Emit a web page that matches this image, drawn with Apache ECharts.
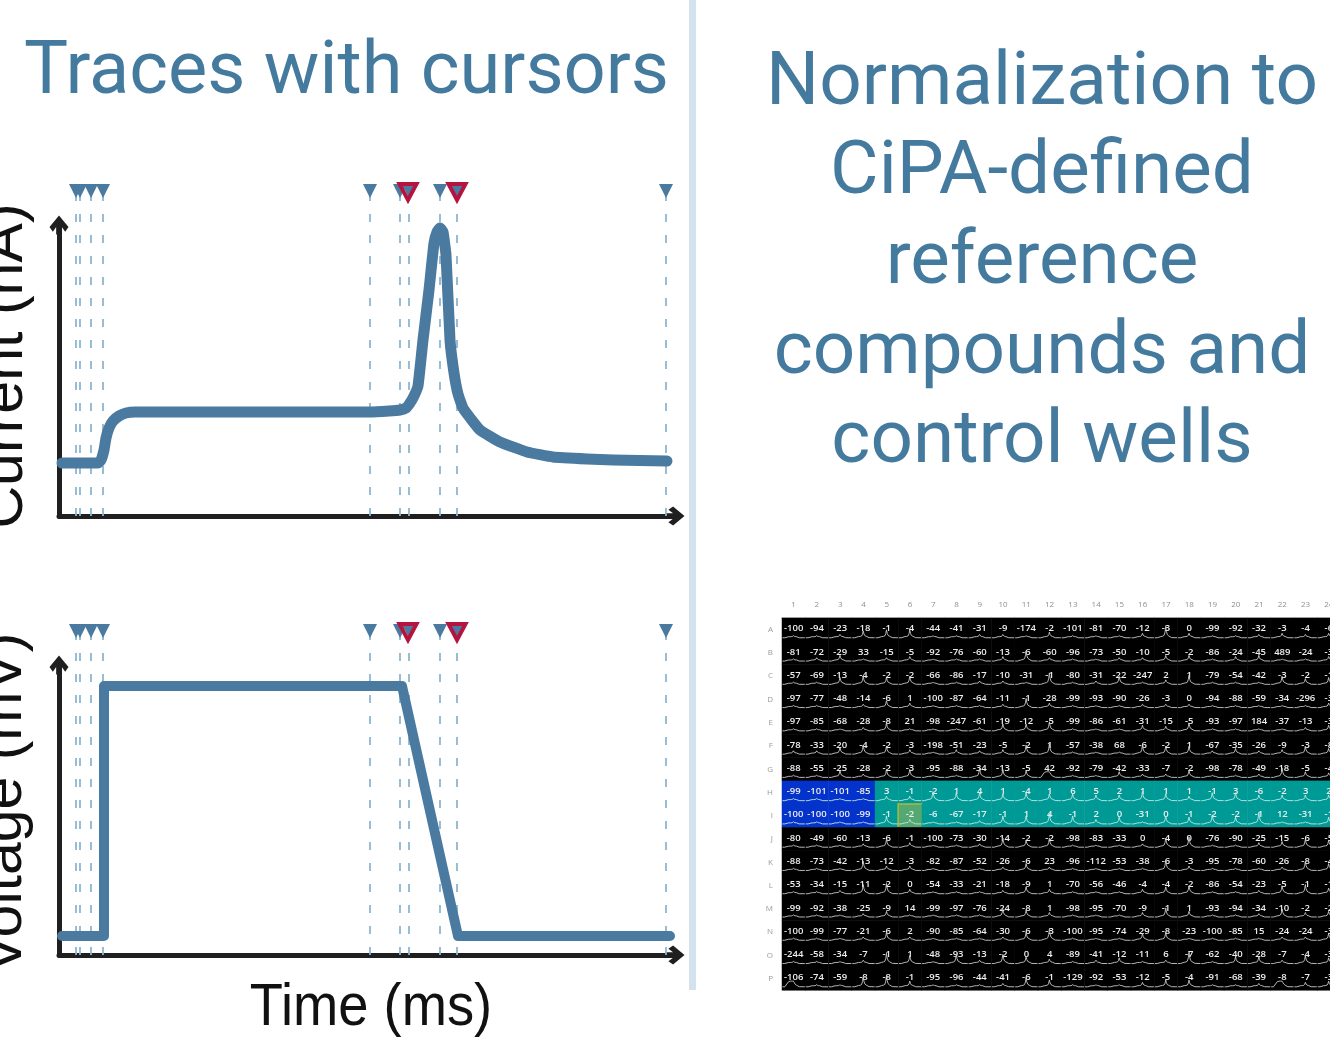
<!DOCTYPE html>
<html><head><meta charset="utf-8">
<style>html,body{margin:0;padding:0;background:#fff;overflow:hidden}#c{width:1330px;height:1042px;filter:blur(0.55px)}</style>
<script src="https://cdn.jsdelivr.net/npm/echarts@6/dist/echarts.min.js"></script>
</head><body><div id="c"></div>
<script>
const currentTime=[3,39,42,45,47,50,54,60,67,76,120,200,280,311,330,341,347,351,355,359,364,370,375,378,381,384,387,391,395,399,404,412,421,441,468,494,528,554,608];
const currentVal=[53,53,56,66,78,88,95,100,103,104,104,104,104,104,105,106,108,113,120,130,176,226,273,284,288,284,261,176,143,122,108,97,86,74,64,59,57,56,55];
const voltageTime=[3,45,45,343,399,611];
const voltageVal=[19,19,269,269,19,19];
const cursorTimes=[17,21,32,44,311,341,350,381,398,607];
const redCursors=[349,398];
const titleLeft='Traces with cursors';
const titleRight='Normalization to\nCiPA-defined\nreference\ncompounds and\ncontrol wells';
const plateCols=Array.from({length:24},(_,i)=>String(i+1));
const plateRows=['A','B','C','D','E','F','G','H','I','J','K','L','M','N','O','P'];
const rowA=[-100,-94,-23,-18,-1,-4,-44,-41,-31,-9,-174,-2,-101,-81,-70,-12,-3,0,-99,-92,-32,-3,-4,-6];
const rowB=[-81,-72,-29,33,-15,-5,-92,-76,-60,-13,-6,-60,-96,-73,-50,-10,-5,-2,-86,-24,-45,489,-24,-3];
const rowC=[-57,-69,-13,-4,-2,-2,-66,-86,-17,-10,-31,-1,-80,-31,-22,-247,2,1,-79,-54,-42,-3,-2,-1];
const rowD=[-97,-77,-48,-14,-6,1,-100,-87,-64,-11,-1,-28,-99,-93,-90,-26,-3,0,-94,-88,-59,-34,-296,-3];
const rowE=[-97,-85,-68,-28,-8,21,-98,-247,-61,-19,-12,-5,-99,-86,-61,-31,-15,-5,-93,-97,184,-37,-13,-3];
const rowF=[-78,-33,-20,-4,-2,-3,-198,-51,-23,-5,-2,1,-57,-38,68,-6,-2,1,-67,-35,-26,-9,-3,-8];
const rowG=[-88,-55,-25,-28,-2,-3,-95,-88,-34,-13,-5,42,-92,-79,-42,-33,-7,-2,-98,-78,-49,-18,-5,-4];
const rowH=[-99,-101,-101,-85,3,-1,-2,1,4,1,-4,1,6,5,2,1,1,1,-1,3,-6,-2,3,2];
const rowI=[-100,-100,-100,-99,-1,-2,-6,-67,-17,-1,1,4,-1,2,0,-31,0,-1,-2,-2,-1,12,-31,-1];
const rowJ=[-80,-49,-60,-13,-6,-1,-100,-73,-30,-14,-2,-2,-98,-83,-33,0,-4,0,-76,-90,-25,-15,-6,-5];
const rowK=[-88,-73,-42,-13,-12,-3,-82,-87,-52,-26,-6,23,-96,-112,-53,-38,-6,-3,-95,-78,-60,-26,-8,-4];
const rowL=[-53,-34,-15,-11,-2,0,-54,-33,-21,-18,-9,1,-70,-56,-46,-4,-4,-2,-86,-54,-23,-5,-1,-1];
const rowM=[-99,-92,-38,-25,-9,14,-99,-97,-76,-24,-8,1,-98,-95,-70,-9,-1,1,-93,-94,-34,-10,-2,-2];
const rowN=[-100,-99,-77,-21,-6,2,-90,-85,-64,-30,-6,-3,-100,-95,-74,-29,-8,-23,-100,-85,15,-24,-24,-3];
const rowO=[-244,-58,-34,-7,-1,1,-48,-93,-13,-2,0,4,-89,-41,-12,-11,6,-7,-62,-40,-28,-7,-4,-3];
const rowP=[-106,-74,-59,-8,-8,-1,-95,-96,-44,-41,-6,-1,-129,-92,-53,-12,-5,-4,-91,-68,-39,-8,-7,-3];
const peakRows=['112566112214111393112323','124123111382112244134113','115656112219126137111645','111253111273111222111113','111261112557111436111124','225763132378111766242364','115266117653114225112743','111133766565544753664444','111163112668635165759115','111263112757111278113465','111733111252111183111275','112783111253111356112674','111241111653111374112634','111262111269111561111225','111286172753124129155264','111894111275111355112434'];
const traceShapeT=[.02,.12,.28,.36,.42,.46,.49,.52,.56,.62,.74,.98];
const traceShapeV=[0,0,.02,.06,.14,.45,1,.5,.2,.08,.02,0];
const humpShapeV=[0,0,.7,.8,.8,.8,.8,.6,.3,.1,.02,0];
const humpWells=['P1','P22','G12'];
const blueCols=[1,2,3,4];
const controlRows=['H','I'];
const selectedWell='I6';

const plateValues=[rowA,rowB,rowC,rowD,rowE,rowF,rowG,rowH,rowI,rowJ,rowK,rowL,rowM,rowN,rowO,rowP];
const BLUE='#4a7a9f',TITLE='#457a9f',AX='#1f1f1f',CUR='#8db6d0';
const zip=(a,b)=>a.map((v,i)=>[v,b[i]]);
const cellData=[],traceData=[];
plateValues.forEach((row,r)=>row.forEach((v,c)=>{
  const name=plateRows[r]+plateCols[c];
  let color='#000',border={};
  if(controlRows.includes(plateRows[r])) color=blueCols.includes(c+1)?'#0433cc':'#009a96';
  if(name===selectedWell){color='#56a873';border={borderColor:'#a9b93c',borderWidth:1.5};}
  cellData.push({value:[c,r,v],itemStyle:{color,...border}});
  traceData.push([c,r,+peakRows[r][c],humpWells.includes(name)?1:0,controlRows.includes(plateRows[r])?1:0]);
}));
const hiddenAxis={show:false};
function cursorSeries(xi,yi,yTop){
  return [{type:'scatter',xAxisIndex:xi,yAxisIndex:yi,z:2,clip:false,symbol:'triangle',symbolRotate:180,symbolSize:[14,14],
    itemStyle:{color:BLUE,opacity:1},data:cursorTimes.map(t=>[t,yTop]),silent:true,
    markLine:{silent:true,symbol:'none',z:1,label:{show:false},lineStyle:{color:CUR,width:1.8,type:[8,13]},data:cursorTimes.map(t=>({xAxis:t}))}},
   {type:'scatter',xAxisIndex:xi,yAxisIndex:yi,z:4,clip:false,symbol:'triangle',symbolRotate:180,symbolSize:[17,16],
    itemStyle:{color:'rgba(0,0,0,0)',borderColor:'#b5143f',borderWidth:4,opacity:1},data:redCursors.map(t=>[t,yTop-1]),silent:true}];
}
const arrow='path://M10 0 L20 12 L16.5 17 L13 12 L13 20 L7 20 L7 12 L3.5 17 L0 12 Z';
const axisCommon={type:'value',axisTick:{show:false},axisLabel:{show:false},splitLine:{show:false},
  axisLine:{show:true,onZero:false,symbol:['none',arrow],symbolSize:[22,19],lineStyle:{color:AX,width:5}}};
const textG=(text,x,y,size,rot,sx)=>({type:'text',x,y,rotation:rot,scaleX:sx,silent:true,
  style:{text,fill:'#111',font:size+'px "Liberation Sans"',textAlign:'center',textVerticalAlign:'middle'}});
const chart=echarts.init(document.getElementById('c'));
chart.setOption({animation:false,backgroundColor:'#fff',
  title:[{text:titleLeft,left:19,top:32,textStyle:{color:TITLE,fontFamily:'Roboto',fontWeight:'normal',fontSize:74}},
    {text:titleRight,left:1037,top:35,textAlign:'center',textStyle:{color:TITLE,fontFamily:'Roboto',fontWeight:'normal',fontSize:74.6,lineHeight:89.7,align:'center'}}],
  grid:[{left:59,top:225,width:616,height:291},{left:59,top:665,width:616,height:290},
    {left:59,top:191,width:616,height:325},{left:59,top:631,width:616,height:324},
    {left:782,top:618,width:558.5,height:372.3,outerBoundsMode:'none'}],
  xAxis:[{...axisCommon,gridIndex:0,min:0,max:616},{...axisCommon,gridIndex:1,min:0,max:616},
    {type:'value',gridIndex:2,min:0,max:616,...hiddenAxis},{type:'value',gridIndex:3,min:0,max:616,...hiddenAxis},
    {type:'category',gridIndex:4,data:plateCols,position:'top',axisTick:{show:false},splitLine:{show:false},
     axisLine:{show:true,lineStyle:{color:'#c4c4c4',width:1.5}},axisLabel:{color:'#8f8f8f',fontSize:8,margin:9,interval:0,fontFamily:'Open Sans'}}],
  yAxis:[{...axisCommon,gridIndex:0,min:0,max:291},{...axisCommon,gridIndex:1,min:0,max:290},
    {type:'value',gridIndex:2,min:0,max:325,...hiddenAxis},{type:'value',gridIndex:3,min:0,max:324,...hiddenAxis},
    {type:'category',gridIndex:4,data:plateRows,inverse:true,axisTick:{show:false},axisLine:{show:false},splitLine:{show:false},
     axisLabel:{color:'#9a9a9a',fontSize:8,margin:9,interval:0,fontFamily:'Open Sans'}}],
  graphic:[{type:'rect',silent:true,shape:{x:689,y:0,width:7,height:990},style:{fill:'#d4e2ee'}},
    textG('Current (nA)',5,366,60,Math.PI/2,0.985),
    textG('Voltage (mV)',5,803,59,Math.PI/2,1),
    textG('Time (ms)',371,1008,60,0,0.905)],
  series:[
    ...cursorSeries(2,2,325),...cursorSeries(3,3,324),
    {type:'line',xAxisIndex:0,yAxisIndex:0,z:3,data:zip(currentTime,currentVal),smooth:0.12,showSymbol:false,lineStyle:{color:BLUE,width:11,cap:'round',join:'round'}},
    {type:'line',xAxisIndex:1,yAxisIndex:1,z:3,data:zip(voltageTime,voltageVal),showSymbol:false,lineStyle:{color:BLUE,width:10,cap:'round',join:'round'}},
    {type:'heatmap',xAxisIndex:4,yAxisIndex:4,z:2,data:cellData,
      label:{show:true,color:'#eeeeee',fontSize:9.5,fontWeight:600,fontFamily:'Open Sans',offset:[0,-1],formatter:p=>String(p.value[2])}},
    {type:'custom',xAxisIndex:4,yAxisIndex:4,z:5,silent:true,clip:true,data:traceData,
      encode:{x:0,y:1},
      renderItem(params,api){
        const c=api.coord([api.value(0),api.value(1)]),s=api.size([1,1]);
        const peak=api.value(2)*s[1]*0.05,hump=api.value(3),ctl=api.value(4);
        const base=c[1]+s[1]*0.35;
        const shape=hump?humpShapeV:traceShapeV;
        const pts=traceShapeT.map((t,i)=>[c[0]-s[0]/2+t*s[0], base-(i>1&&i<10?1:0)-shape[i]*(hump?s[1]*0.25:peak)]);
        return {type:'polyline',shape:{points:pts},style:{stroke:ctl?'#bfe8e4':'#c9c9c9',fill:'none',lineWidth:0.9}};
      }}
  ]});
</script></body></html>
